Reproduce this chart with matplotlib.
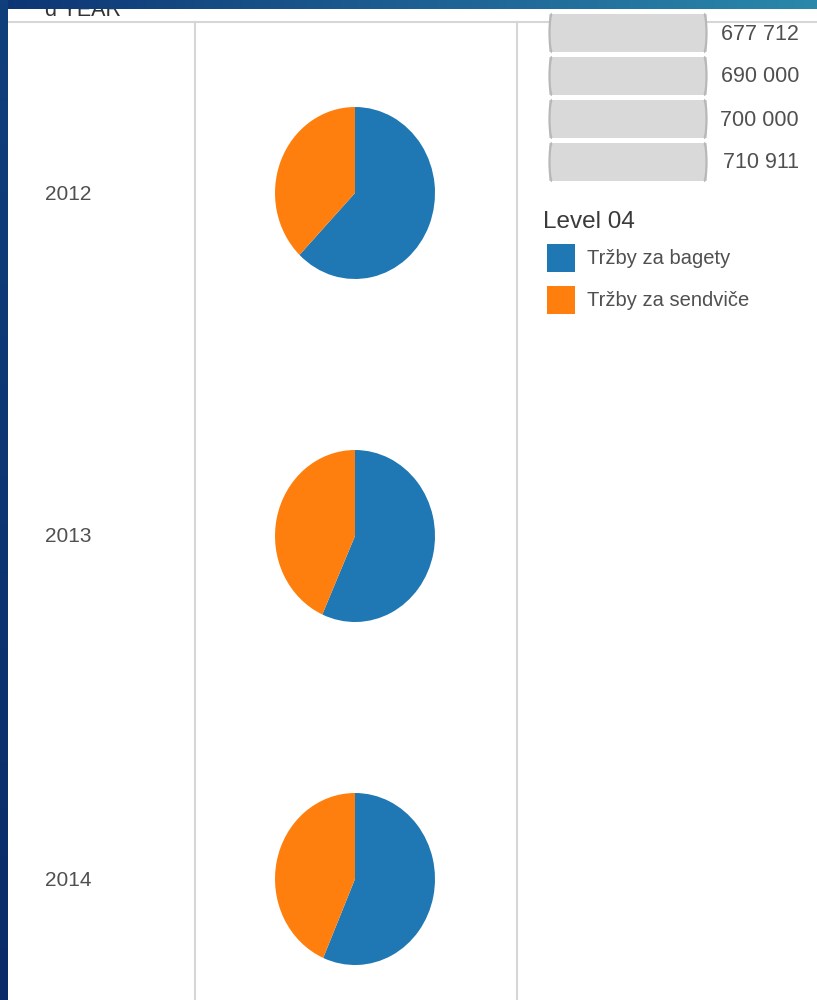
import numpy as np
import matplotlib
matplotlib.use('Agg')
from matplotlib import pyplot as plt
from matplotlib import patches

plt.rcParams['font.family'] = ['Liberation Sans', 'DejaVu Sans']

years = ['2012', '2013', '2014']
sales_bagety = [62.2, 56.7, 56.5]
sales_sendvice = [37.8, 43.3, 43.5]
level_labels = ['Tržby za bagety', 'Tržby za sendviče']
level_colors = ['#1f77b4', '#ff7f0e']
list_values = [677712, 690000, 700000, 710911]

W, H = 817, 1000
fig = plt.figure(figsize=(W / 100, H / 100), dpi=100)
ax = fig.add_axes([0, 0, 1, 1])
ax.set_xlim(0, W)
ax.set_ylim(H, 0)
ax.axis('off')

text_grey = '#505050'
line_grey = '#d6d6d6'

# column header, top half hidden under the window banner
ax.text(45, 16, 'd YEAR', fontsize=15.5, color='#333333', va='baseline', zorder=1)

# window chrome: gradient banner on top, dark strip on the left
grad = np.linspace(0, 1, 256).reshape(1, -1)
cmap_top = matplotlib.colors.LinearSegmentedColormap.from_list('top', ['#0d3573', '#1d5f93', '#2a88aa'])
ax.imshow(grad, extent=(0, W, 9, 0), cmap=cmap_top, aspect='auto', zorder=5)
vgrad = np.linspace(0, 1, 256).reshape(-1, 1)
cmap_left = matplotlib.colors.LinearSegmentedColormap.from_list('left', ['#10407c', '#0a2b68'])
ax.imshow(vgrad, extent=(0, 8, H, 0), cmap=cmap_left, aspect='auto', zorder=5)

# grid lines of the view
ax.plot([8, W], [22, 22], color=line_grey, lw=1.5, zorder=2)
ax.plot([195, 195], [22, H], color=line_grey, lw=1.5, zorder=2)
ax.plot([517, 517], [22, H], color=line_grey, lw=1.5, zorder=2)

# one pie per year
row_y = [193, 536, 879]
rx, ry = 80, 86
for yr, yc, b, s in zip(years, row_y, sales_bagety, sales_sendvice):
    ax.text(45, yc + 1, yr, fontsize=15, color=text_grey, va='center', ha='left')
    pax = fig.add_axes([(355 - rx) / W, 1 - (yc + ry) / H, 2 * rx / W, 2 * ry / H])
    pax.pie([b, s], colors=level_colors, startangle=90, counterclock=False,
            wedgeprops=dict(linewidth=0))
    pax.set_aspect('auto')
    pax.set_xlim(-1.0, 1.0)
    pax.set_ylim(-1.0, 1.0)

# list of values on the right
bar_tops = [14, 57, 100, 143]
bar_h = 38
for top, val in zip(bar_tops, list_values):
    ax.add_patch(patches.Rectangle((549, top), 158, bar_h, facecolor='#d9d9d9',
                                   edgecolor='none', zorder=2))
    ax.add_patch(patches.Arc((552, top + bar_h / 2), 5, bar_h, theta1=90, theta2=270,
                             color='#b8b8b8', lw=1.6, zorder=3))
    ax.add_patch(patches.Arc((704, top + bar_h / 2), 5, bar_h, theta1=-90, theta2=90,
                             color='#b8b8b8', lw=1.6, zorder=3))
    label = f'{val:,}'.replace(',', ' ')
    ax.text(799, top + bar_h / 2 + 1, label, fontsize=15.5, color=text_grey,
            ha='right', va='center', zorder=3)

# colour legend
ax.text(543, 222, 'Level 04', fontsize=17.5, color='#3a3a3a', va='center', ha='left')
for i, (lab, col) in enumerate(zip(level_labels, level_colors)):
    top = 244 + i * 42
    ax.add_patch(patches.Rectangle((547, top), 28, 28, facecolor=col, edgecolor='none'))
    ax.text(587, top + 14, lab, fontsize=14.5, color=text_grey, va='center', ha='left')

fig.savefig('out.png', dpi=100)
